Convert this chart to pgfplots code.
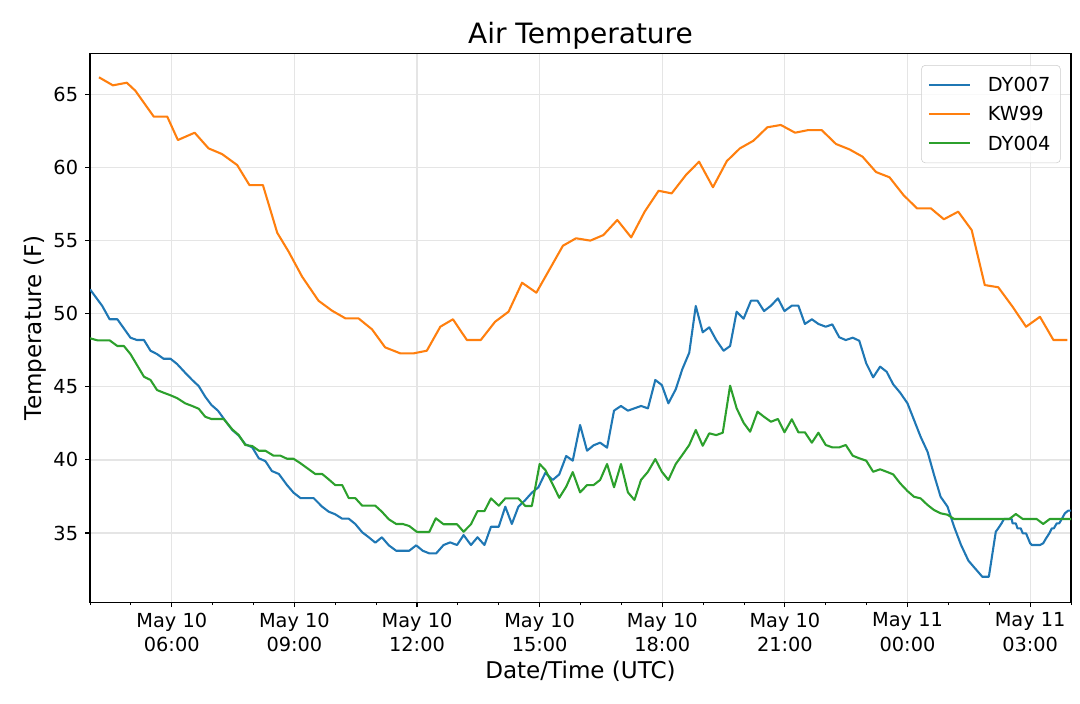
\documentclass[border=0pt]{standalone}
\usepackage{fontspec}
\setmainfont{DejaVu Sans}
\usepackage{pgfplots}
\usepackage{pgfplotstable}
\pgfplotsset{compat=1.18}
\definecolor{c1}{HTML}{1F77B4}
\definecolor{c2}{HTML}{FF7F0E}
\definecolor{c3}{HTML}{2CA02C}
\pgfplotstableread{
x y
4.00 51.67
4.30 50.53
4.48 49.62
4.67 49.62
4.99 48.36
5.15 48.20
5.32 48.20
5.48 47.47
5.64 47.24
5.80 46.92
5.97 46.92
6.13 46.56
6.33 45.96
6.50 45.47
6.66 45.05
6.82 44.32
6.97 43.76
7.13 43.37
7.31 42.68
7.48 42.05
7.64 41.66
7.80 41.07
7.97 40.86
8.13 40.11
8.29 39.92
8.45 39.24
8.62 39.04
8.82 38.28
8.98 37.76
9.15 37.39
9.47 37.39
9.68 36.80
9.84 36.46
10.00 36.28
10.17 35.98
10.33 35.98
10.49 35.62
10.66 35.05
10.82 34.71
10.98 34.34
11.14 34.71
11.31 34.16
11.49 33.79
11.81 33.79
11.98 34.16
12.14 33.79
12.30 33.61
12.47 33.61
12.65 34.18
12.81 34.36
12.98 34.18
13.14 34.86
13.32 34.18
13.48 34.71
13.65 34.18
13.81 35.43
14.00 35.43
14.16 36.80
14.32 35.62
14.48 36.80
14.65 37.26
14.81 37.76
14.97 38.13
15.14 39.12
15.32 38.63
15.48 39.01
15.65 40.27
15.81 39.95
15.99 42.39
16.16 40.63
16.32 41.00
16.48 41.18
16.65 40.84
16.82 43.37
16.99 43.69
17.16 43.37
17.32 43.53
17.48 43.69
17.65 43.53
17.83 45.47
17.99 45.12
18.15 43.87
18.33 44.83
18.49 46.20
18.66 47.33
18.82 50.53
18.99 48.73
19.15 49.07
19.32 48.20
19.50 47.47
19.66 47.79
19.82 50.14
19.99 49.66
20.17 50.89
20.33 50.89
20.49 50.18
20.66 50.55
20.83 51.05
20.99 50.18
21.17 50.55
21.33 50.55
21.49 49.30
21.66 49.62
21.82 49.30
22.00 49.11
22.16 49.27
22.33 48.39
22.49 48.20
22.66 48.36
22.82 48.15
22.99 46.61
23.16 45.65
23.33 46.38
23.49 46.03
23.65 45.17
23.82 44.60
24.00 43.87
24.16 42.73
24.32 41.59
24.49 40.56
24.65 38.97
24.81 37.48
24.98 36.80
25.14 35.43
25.31 34.18
25.49 33.11
25.65 32.59
25.83 32.01
25.99 32.01
26.16 35.09
26.22 35.32
26.30 35.66
26.36 35.96
26.55 35.96
26.57 35.66
26.65 35.66
26.69 35.32
26.77 35.32
26.82 34.98
26.90 34.98
26.95 34.64
27.00 34.30
27.04 34.18
27.24 34.18
27.32 34.30
27.39 34.64
27.47 34.98
27.53 35.32
27.58 35.32
27.65 35.66
27.71 35.66
27.77 35.94
27.85 36.35
27.93 36.53
28.00 36.53
}\dyseven
\pgfplotstableread{
x y
4.22 66.17
4.56 65.62
4.90 65.80
5.11 65.25
5.56 63.48
5.89 63.48
6.15 61.88
6.56 62.38
6.90 61.31
7.23 60.92
7.60 60.17
7.90 58.80
8.23 58.80
8.58 55.54
8.86 54.24
9.19 52.53
9.59 50.89
9.92 50.21
10.25 49.68
10.57 49.68
10.90 48.93
11.22 47.70
11.59 47.29
11.92 47.29
12.24 47.47
12.57 49.11
12.88 49.62
13.22 48.20
13.56 48.20
13.91 49.45
14.24 50.14
14.57 52.12
14.92 51.44
15.57 54.65
15.89 55.16
16.24 55.00
16.56 55.38
16.90 56.41
17.24 55.22
17.57 56.98
17.91 58.41
18.23 58.23
18.58 59.49
18.90 60.40
19.24 58.65
19.58 60.44
19.90 61.31
20.23 61.83
20.57 62.75
20.90 62.91
21.25 62.38
21.57 62.56
21.90 62.56
22.25 61.61
22.58 61.24
22.90 60.74
23.23 59.69
23.56 59.33
23.90 58.12
24.23 57.21
24.57 57.21
24.89 56.46
25.24 56.98
25.57 55.72
25.89 51.96
26.22 51.81
26.57 50.48
26.90 49.11
27.24 49.79
27.57 48.20
27.91 48.20
}\kwnn
\pgfplotstableread{
x y
4.00 48.32
4.18 48.18
4.48 48.18
4.67 47.79
4.83 47.79
4.99 47.24
5.15 46.49
5.32 45.69
5.48 45.47
5.64 44.78
5.80 44.60
5.97 44.42
6.13 44.23
6.33 43.87
6.50 43.69
6.66 43.50
6.82 42.95
6.97 42.80
7.27 42.80
7.48 42.09
7.64 41.70
7.80 41.02
7.97 40.95
8.13 40.63
8.29 40.63
8.49 40.29
8.66 40.29
8.82 40.08
8.98 40.08
9.15 39.77
9.51 39.04
9.68 39.04
9.84 38.67
10.00 38.28
10.17 38.28
10.33 37.39
10.49 37.39
10.66 36.87
10.98 36.87
11.14 36.46
11.31 35.94
11.49 35.62
11.65 35.62
11.81 35.48
12.00 35.07
12.30 35.07
12.46 36.01
12.65 35.60
12.98 35.60
13.14 35.09
13.32 35.60
13.48 36.50
13.65 36.50
13.81 37.37
14.00 36.87
14.16 37.37
14.48 37.37
14.65 36.85
14.81 36.85
15.00 39.72
15.14 39.31
15.32 38.33
15.48 37.41
15.65 38.17
15.81 39.17
15.99 37.78
16.16 38.28
16.32 38.28
16.48 38.63
16.65 39.72
16.82 38.13
16.99 39.72
17.16 37.78
17.32 37.26
17.48 38.63
17.65 39.19
17.83 40.06
17.99 39.19
18.15 38.63
18.33 39.72
18.49 40.34
18.66 41.02
18.82 42.05
18.99 40.97
19.15 41.82
19.32 41.70
19.48 41.86
19.66 45.08
19.82 43.53
19.99 42.54
20.15 41.93
20.33 43.30
20.49 42.95
20.66 42.61
20.83 42.80
20.99 41.89
21.17 42.78
21.33 41.89
21.49 41.89
21.66 41.18
21.82 41.86
22.00 41.02
22.16 40.86
22.33 40.86
22.49 41.02
22.66 40.29
22.82 40.11
22.99 39.95
23.16 39.19
23.33 39.36
23.49 39.19
23.65 39.01
23.82 38.40
24.00 37.87
24.16 37.48
24.32 37.37
24.49 36.92
24.65 36.57
24.81 36.35
24.98 36.25
25.14 35.96
26.49 35.96
26.65 36.30
26.82 35.96
27.16 35.96
27.32 35.62
27.48 35.96
28.00 35.96
}\dyfour
\begin{document}
\begin{tikzpicture}
\useasboundingbox (0,0) rectangle (810pt,527.25pt);
\begin{axis}[
  at={(67.5pt,75.5pt)}, anchor=south west,
  scale only axis, width=735.75pt, height=411.75pt,
  xmin=4, xmax=28, ymin=30.26, ymax=67.81,
  axis line style={line width=0.83pt},
  tick pos=left, tick align=outside,
  major tick length=3.65pt, minor tick length=2.1pt,
  tick style={black, line width=0.83pt},
  minor tick style={line width=0.6pt},
  grid=major, major grid style={black!10, line width=0.9pt},
  xtick={6,9,12,15,18,21,24,27},
  xticklabels={{May 10\\06:00},{May 10\\09:00},{May 10\\12:00},{May 10\\15:00},{May 10\\18:00},{May 10\\21:00},{May 11\\00:00},{May 11\\03:00}},
  minor xtick={4,5,7,8,10,11,13,14,16,17,19,20,22,23,25,26,28},
  ytick={35,40,45,50,55,60,65},
  /pgf/number format/assume math mode=true,
  xticklabel style={align=center, font=\fontsize{14.5}{18.2}\selectfont, inner sep=0pt, anchor=north, yshift=-3.9pt},
  yticklabel style={font=\fontsize{14.5}{17}\selectfont, inner sep=0pt, anchor=east, xshift=-5.1pt},
  title={Air Temperature},
  title style={at={(axis description cs:0.5,1)}, anchor=base, yshift=1.2pt, font=\fontsize{21}{25}\selectfont},
  xlabel={Date/Time (UTC)},
  xlabel style={at={(axis description cs:0.5,-0.1384)}, anchor=base, font=\fontsize{17.3}{20}\selectfont},
  ylabel={Temperature (F)},
  ylabel style={at={(axis description cs:-0.0493,0.5)}, anchor=base, font=\fontsize{17.3}{20}\selectfont},
  legend style={at={(axis description cs:0.9895,0.9787)}, anchor=north east,
    draw=black!20, rounded corners=3pt, fill=white, fill opacity=0.8, text opacity=1,
    font=\fontsize{14.5}{17}\selectfont, inner xsep=1.5pt, inner ysep=7pt,
    row sep=6.8pt, column sep=6.5pt,
    nodes={inner xsep=6pt, inner ysep=0pt, text height=12.6pt, text depth=2.6pt}},
  legend cell align=left,
  legend image code/.code={\path (0pt,0pt); \draw[#1] (3.3pt,0pt) -- (34.3pt,0pt);},
  every axis plot/.append style={line width=1.56pt, line join=round},
]
\addplot[c1] table {\dyseven};
\addlegendentry{DY007}
\addplot[c2] table {\kwnn};
\addlegendentry{KW99}
\addplot[c3] table {\dyfour};
\addlegendentry{DY004}
\end{axis}
\end{tikzpicture}
\end{document}
